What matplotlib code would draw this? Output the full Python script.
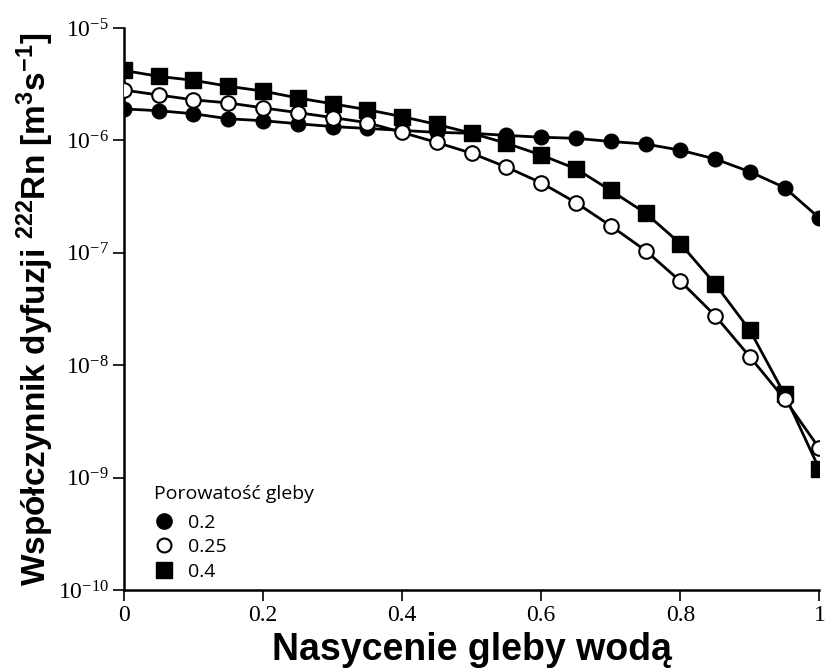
import numpy as np
import matplotlib
matplotlib.use("Agg")
import matplotlib.pyplot as plt
from matplotlib.lines import Line2D

# water saturation of soil
saturation = [0.0, 0.05, 0.1, 0.15, 0.2, 0.25, 0.3, 0.35, 0.4, 0.45, 0.5,
              0.55, 0.6, 0.65, 0.7, 0.75, 0.8, 0.85, 0.9, 0.95, 1.0]

# Rn-222 diffusion coefficient [m^2/s] for soil porosity 0.2 / 0.25 / 0.4
d_02 = [1.91e-6, 1.84e-6, 1.73e-6, 1.56e-6, 1.50e-6, 1.41e-6, 1.33e-6, 1.28e-6,
        1.23e-6, 1.18e-6, 1.16e-6, 1.11e-6, 1.07e-6, 1.045e-6, 9.8e-7, 9.3e-7,
        8.2e-7, 6.85e-7, 5.27e-7, 3.81e-7, 2.04e-7]
d_025 = [2.81e-6, 2.54e-6, 2.30e-6, 2.16e-6, 1.95e-6, 1.77e-6, 1.60e-6, 1.44e-6,
         1.18e-6, 9.6e-7, 7.7e-7, 5.8e-7, 4.2e-7, 2.8e-7, 1.74e-7, 1.05e-7,
         5.6e-8, 2.77e-8, 1.19e-8, 5.0e-9, 1.82e-9]
d_04 = [4.20e-6, 3.72e-6, 3.43e-6, 3.04e-6, 2.75e-6, 2.39e-6, 2.12e-6, 1.88e-6,
        1.63e-6, 1.39e-6, 1.16e-6, 9.45e-7, 7.42e-7, 5.6e-7, 3.59e-7, 2.26e-7,
        1.21e-7, 5.3e-8, 2.05e-8, 5.5e-9, 1.19e-9]

porosity_labels = ['0.2', '0.25', '0.4']
x_ticks = [0, 0.2, 0.4, 0.6, 0.8, 1]
x_ticklabels = ['0', '0.2', '0.4', '0.6', '0.8', '1']
y_exps = [-10, -9, -8, -7, -6, -5]

fig = plt.figure(figsize=(8.26, 6.69), dpi=100)
ax = fig.add_axes([0.150, 0.118, 0.842, 0.840])

ax.plot(saturation, d_02, color='black', lw=2.0, marker='o', ms=10.5,
        mfc='black', mec='black', zorder=3)
ax.plot(saturation, d_025, color='black', lw=2.0, marker='o', ms=10.5,
        mfc='white', mec='black', mew=1.5, zorder=4)
ax.plot(saturation, d_04, color='black', lw=2.0, marker='s', ms=11,
        mfc='black', mec='black', zorder=2)

ax.set_yscale('log')
ax.set_ylim(1e-10, 1e-5)
ax.set_xlim(0, 1)
ax.spines['top'].set_visible(False)
ax.spines['right'].set_visible(False)
ax.spines['left'].set_linewidth(1.8)
ax.spines['bottom'].set_linewidth(1.8)

ax.set_xticks(x_ticks)
ax.set_xticklabels(x_ticklabels, family='Liberation Serif', fontsize=17)
ax.set_yticks([10.0 ** e for e in y_exps])
ax.set_yticklabels([r'$\mathregular{10^{%d}}$' % e for e in y_exps],
                   family='Liberation Serif', fontsize=17)
ax.yaxis.set_minor_locator(matplotlib.ticker.NullLocator())
ax.tick_params(direction='out', length=8, width=1.2, colors='black', pad=3)

ax.set_xlabel('Nasycenie gleby wodą', family='Liberation Sans', fontweight='bold',
              fontsize=27, labelpad=4)
ax.set_ylabel(r'Współczynnik dyfuzji $\mathregular{^{222}}$Rn [m$\mathregular{^3}$s$\mathregular{^{-1}}$]',
              family='Liberation Sans', fontweight='bold', fontsize=24, labelpad=1,
              bbox=dict(facecolor='white', edgecolor='none', pad=1))

handles = [
    Line2D([], [], linestyle='none', marker='o', ms=11, mfc='black', mec='black'),
    Line2D([], [], linestyle='none', marker='o', ms=10, mfc='white', mec='black', mew=1.5),
    Line2D([], [], linestyle='none', marker='s', ms=11, mfc='black', mec='black'),
]
leg = ax.legend(handles, porosity_labels, title='Porowatość gleby', frameon=False,
                loc='upper left', bbox_to_anchor=(0.03, 0.205),
                prop={'family': 'Open Sans', 'size': 14}, handletextpad=0.7,
                labelspacing=0.33, handlelength=1.0, borderpad=0)
leg.get_title().set_family('Open Sans')
leg.get_title().set_fontsize(14)
leg._legend_box.align = 'left'
leg._legend_box.sep = 8

fig.savefig('out.png', dpi=100)
